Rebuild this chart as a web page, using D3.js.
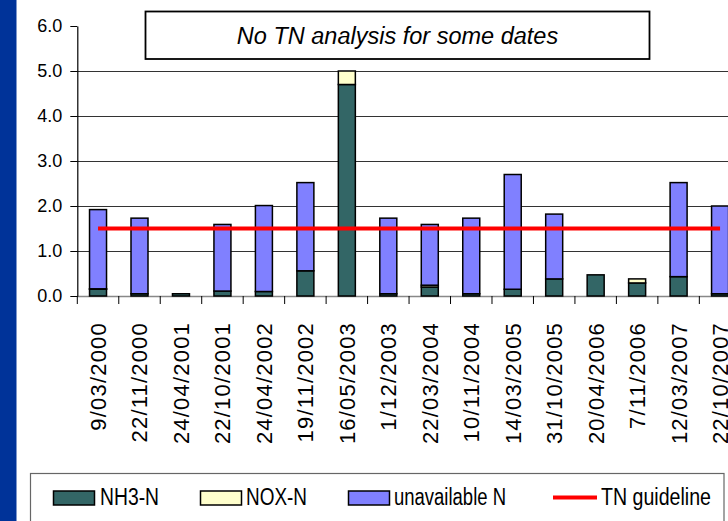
<!DOCTYPE html>
<html><head><meta charset="utf-8">
<script src="https://cdn.jsdelivr.net/npm/d3@7"></script>
<style>
html,body{margin:0;padding:0;background:#fff;}
svg{display:block;font-family:"Liberation Sans",Arial,sans-serif;}
</style></head>
<body>
<script>
const categories = ["9/03/2000","22/11/2000","24/04/2001","22/10/2001","24/04/2002","19/11/2002","16/05/2003","1/12/2003","22/03/2004","10/11/2004","14/03/2005","31/10/2005","20/04/2006","7/11/2006","12/03/2007","22/10/2007"];
const nh3N =        [0.15,0.05,0.05,0.11,0.10,0.56,4.70,0.05,0.20,0.05,0.15,0.38,0.47,0.29,0.43,0.05];
const noxN =        [0.01,0.00,0.00,0.00,0.00,0.00,0.30,0.00,0.04,0.00,0.00,0.00,0.00,0.09,0.00,0.00];
const unavailableN =[1.76,1.68,0.00,1.48,1.91,1.96,0.00,1.68,1.35,1.68,2.55,1.44,0.00,0.00,2.09,1.95];
const tnGuideline = 1.5;
const yTicks = [0,1,2,3,4,5,6];
const seriesNames = ["NH3-N","NOX-N","unavailable N"];
const seriesColors = ["#336666","#FFFFCC","#8080FF"];

const W = 728, H = 521;
const svg = d3.select("body").append("svg").attr("width",W).attr("height",H);

// left blue strip
svg.append("rect").attr("x",0).attr("y",0).attr("width",16.5).attr("height",H).attr("fill","#003399");

const x = d3.scaleBand().domain(categories).range([77.3, 740.8]).padding(0);
const y = d3.scaleLinear().domain([0,6]).range([296, 26]);

// gridlines
svg.append("g").selectAll("line").data(yTicks.filter(d=>d>0 && d<6)).join("line")
  .attr("x1",77.3).attr("x2",W).attr("y1",d=>Math.round(y(d))+0.5).attr("y2",d=>Math.round(y(d))+0.5)
  .attr("stroke","#333").attr("stroke-width",1);

// x axis line (gray) and boundary ticks
svg.append("line").attr("x1",77.3).attr("x2",W).attr("y1",296.5).attr("y2",296.5)
  .attr("stroke","#888").attr("stroke-width",1.5);
const bounds = categories.map(c=>x(c));
svg.append("g").selectAll("line").data(bounds).join("line")
  .attr("x1",d=>d).attr("x2",d=>d).attr("y1",296).attr("y2",304)
  .attr("stroke","#000").attr("stroke-width",1);

// stacked data
const rows = categories.map((c,i)=>({cat:c, "NH3-N":nh3N[i], "NOX-N":noxN[i], "unavailable N":unavailableN[i]}));
const stack = d3.stack().keys(seriesNames)(rows);
const bw = 17;
const gBars = svg.append("g");
stack.forEach((layer,li)=>{
  gBars.append("g").selectAll("rect").data(layer.filter(d=>d[1]-d[0]>0)).join("rect")
    .attr("x",d=>x(d.data.cat)+x.bandwidth()/2-bw/2)
    .attr("width",bw)
    .attr("y",d=>y(d[1]))
    .attr("height",d=>y(d[0])-y(d[1]))
    .attr("fill",seriesColors[li])
    .attr("stroke","#000").attr("stroke-width",1.5);
});

// y axis
const yAxis = d3.axisLeft(y).tickValues(yTicks).tickFormat(d3.format(".1f")).tickSize(7).tickSizeOuter(0).tickPadding(8);
const gy = svg.append("g").attr("transform","translate(77.3,0)").call(yAxis);
gy.selectAll("text").attr("font-size",18).attr("fill","#000").attr("font-family","'Liberation Sans',Arial,sans-serif");
gy.select(".domain").attr("stroke","#000").attr("stroke-width",1.2);

// x labels
const xAxis = d3.axisBottom(x).tickSize(0).tickPadding(0).tickSizeOuter(0);
const gx = svg.append("g").attr("transform","translate(0,322)").call(xAxis);
gx.select(".domain").remove();
gx.selectAll("text")
  .attr("transform","rotate(-90)")
  .attr("text-anchor","end")
  .attr("x",0).attr("y",0).attr("dy","0.36em")
  .attr("font-size",22).attr("letter-spacing","1.2px")
  .attr("fill","#000").attr("font-family","'Liberation Sans',Arial,sans-serif");

// guideline
svg.append("line")
  .attr("x1",x(categories[0])+x.bandwidth()/2).attr("x2",Math.min(W-6, x(categories[categories.length-1])+x.bandwidth()/2))
  .attr("y1",y(tnGuideline)).attr("y2",y(tnGuideline))
  .attr("stroke","#FF0000").attr("stroke-width",4);

// note box
svg.append("rect").attr("x",145.5).attr("y",11.5).attr("width",504).attr("height",47.5)
  .attr("fill","#fff").attr("stroke","#000").attr("stroke-width",1.8);
svg.append("text").attr("x",397.5).attr("y",43.5).attr("text-anchor","middle")
  .attr("font-size",23.5).attr("font-style","italic").text("No TN analysis for some dates");

// legend
svg.append("rect").attr("x",30.5).attr("y",473.5).attr("width",693.5).attr("height",60)
  .attr("fill","#fff").attr("stroke","#666").attr("stroke-width",1.2);
const legendItems = [
  {name:seriesNames[0], color:seriesColors[0], type:"rect", sx:53.5, tx:100, tw:59},
  {name:seriesNames[1], color:seriesColors[1], type:"rect", sx:200.5, tx:246, tw:61},
  {name:seriesNames[2], color:seriesColors[2], type:"rect", sx:348.5, tx:394, tw:112},
  {name:"TN guideline", color:"#FF0000", type:"line", sx:553, tx:601, tw:110}
];
const lg = svg.append("g");
legendItems.forEach(it=>{
  if(it.type==="rect"){
    lg.append("rect").attr("x",it.sx).attr("y",491).attr("width",41).attr("height",14)
      .attr("fill",it.color).attr("stroke","#000").attr("stroke-width",1.5);
  } else {
    lg.append("line").attr("x1",it.sx).attr("x2",it.sx+44).attr("y1",497.5).attr("y2",497.5)
      .attr("stroke",it.color).attr("stroke-width",4);
  }
  lg.append("text").attr("x",it.tx).attr("y",505).attr("font-size",23)
    .attr("textLength",it.tw).attr("lengthAdjust","spacingAndGlyphs")
    .text(it.name);
});
</script>
</body></html>
